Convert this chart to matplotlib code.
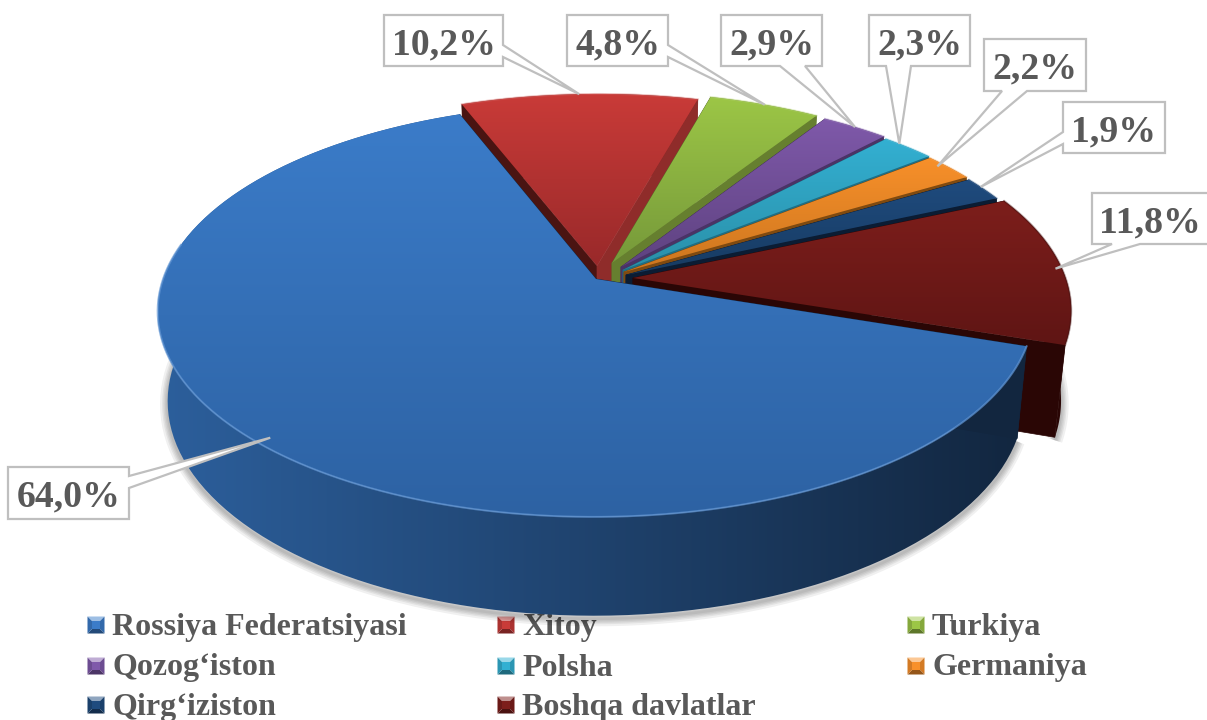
import numpy as np
import matplotlib
matplotlib.use("Agg")
import matplotlib.pyplot as plt
from matplotlib.colors import to_rgb
from matplotlib.patches import Polygon

names = ["Rossiya Federatsiyasi", "Xitoy", "Turkiya", "Qozog‘iston", "Polsha",
         "Germaniya", "Qirg‘iziston", "Boshqa davlatlar"]
shares = [64.0, 10.2, 4.8, 2.9, 2.3, 2.2, 1.9, 11.8]

top_light = ["#3b7cc9", "#c93b38", "#9cc646", "#7f59aa", "#33b0d2", "#f8902a", "#1f4b7e", "#7d1e1b"]
top_dark = ["#2d62a3", "#99292a", "#76993a", "#5e4280", "#2a8fa8", "#cc761f", "#173b62", "#5f1514"]
wall_start = ["#12263f", "#4a1412", "#566c28", "#3f2b58", "#1c6478", "#75440e", "#0a1a30", "#2a0605"]
wall_end = ["#12263f", "#8f2c2a", "#667f2f", "#4a3366", "#1f6f85", "#7f4a10", "#0b1c33", "#2a0605"]
rim_left = ["#2c5f9c", "#6e1f1d", "#566c28", "#3f2b58", "#1c6478", "#75440e", "#0a1a30", "#2a0605"]
rim_right = ["#12263f", "#4a1412", "#566c28", "#3f2b58", "#1c6478", "#75440e", "#0a1a30", "#2a0605"]

# where each exploded slice has its point on screen
apex_px = [(596, 279), (597, 266), (612, 263), (621, 267), (623, 270), (624, 272), (626, 275), (633, 278)]

# label boxes: x0, y0, x1, y1, then the two points where the callout leaves the box
boxes = [
    (8, 467, 129, 519, (129, 476), (129, 488)),
    (384, 15, 503, 66, (503, 45), (503, 57)),
    (567, 15, 668, 66, (668, 45), (668, 57)),
    (721, 15, 822, 66, (805, 66), (780, 66)),
    (869, 15, 970, 66, (911, 66), (886, 66)),
    (984, 39, 1086, 91, (1027, 91), (1002, 91)),
    (1063, 102, 1165, 153, (1063, 144), (1063, 132)),
    (1092, 193, 1212, 244, (1140, 244), (1112, 244)),
]
tip_radius = [0.97, 1.0, 1.0, 1.0, 1.0, 0.98, 1.0, 0.985]
tip_frac = [0.5, 0.5, 0.5, 0.5, 0.3, 0.35, 0.4, 0.5]

legend_x = [88, 498, 908]
legend_y = [624, 665, 704]

# perspective pie
cx, cy = 610, 273
scale_x, scale_y = 431, 200
depth = 91
persp_v, persp_z = 0.151, 0.022
start_angle = -18.5
serif = "Liberation Serif"


def project(u, v, z):
    w = 1 + persp_v * v + persp_z * z
    return cx + scale_x * u / w, cy + (-scale_y * v + depth * z) / w


def unproject(x, y):
    uw = (x - cx) / scale_x
    vw = -(y - cy) / scale_y
    v = vw / (1 - persp_v * vw)
    return uw * (1 + persp_v * v), v


def arc(c, a0, a1, z, r=1.0, n=120):
    t = np.radians(np.linspace(a0, a1, n))
    x, y = project(c[0] + r * np.cos(t), c[1] + r * np.sin(t), z)
    return np.column_stack([x, y])


def gradient_fill(ax, pts, c0, c1, vertical, zorder):
    c0, c1 = np.array(to_rgb(c0)), np.array(to_rgb(c1))
    f = np.linspace(0, 1, 256)[:, None]
    img = c0 * (1 - f) + c1 * f
    img = img[:, None, :] if vertical else img[None, :, :]
    x0, y0 = pts.min(axis=0)
    x1, y1 = pts.max(axis=0)
    im = ax.imshow(img, extent=(x0, x1, y1, y0), aspect="auto", zorder=zorder,
                   interpolation="bilinear")
    clip = Polygon(pts, closed=True, transform=ax.transData, fc="none", ec="none")
    ax.add_patch(clip)
    im.set_clip_path(clip)


def bevel_marker(ax, x, y, color, s=8.5, b=4.5):
    base = np.array(to_rgb(color))
    lighter = base + (1 - base) * 0.5
    darker = base * 0.6
    side = base * 0.85
    o = [(x - s, y - s), (x + s, y - s), (x + s, y + s), (x - s, y + s)]
    i = [(x - s + b, y - s + b), (x + s - b, y - s + b), (x + s - b, y + s - b), (x - s + b, y + s - b)]
    for k, col in enumerate([lighter, side, darker, side]):
        ax.add_patch(Polygon([o[k], o[(k + 1) % 4], i[(k + 1) % 4], i[k]], fc=col, ec="none", zorder=2))
    ax.add_patch(Polygon(i, fc=base, ec="none", zorder=2))


fig = plt.figure(figsize=(12.07, 7.2), dpi=100)
ax = fig.add_axes([0, 0, 1, 1])

# legend goes under the pie, the pie cuts into the "Xitoy" text
for i, name in enumerate(names):
    lx = legend_x[i % 3]
    ly = legend_y[i // 3]
    bevel_marker(ax, lx + 8, ly + 1, top_light[i])
    ax.text(lx + 24, ly + 3, name, family=serif, weight="bold", fontsize=23,
            color="#595959", va="center", ha="left", zorder=3)

total = sum(shares)
angle = start_angle
spans = []
for v in shares:
    spans.append((angle, angle - 360 * v / total))
    angle = spans[-1][1]
centers = [unproject(*p) for p in apex_px]

# shadow of blue and dark red sides
for i in [0, 7]:
    a0, a1 = spans[i]
    low = arc(centers[i], a0, a1, 1) + [0, 3]
    for lw in [11, 8, 6, 4, 2]:
        ax.plot(low[:, 0], low[:, 1], color="black", lw=lw, alpha=0.06, zorder=4,
                solid_capstyle="butt")

# back to front, blue last
order = [1, 2, 3, 4, 5, 6, 7, 0]
z = 5
for i in order:
    a0, a1 = spans[i]
    c = centers[i]
    apex_top = np.array(project(c[0], c[1], 0))
    apex_low = np.array(project(c[0], c[1], 1))

    # rim first, the radial walls have to cover its hidden back part
    rim = np.vstack([arc(c, a0, a1, 0), arc(c, a1, a0, 1)])
    gradient_fill(ax, rim, rim_left[i], rim_right[i], False, z)
    z += 1

    for a, col in [(a0, wall_start[i]), (a1, wall_end[i])]:
        e_top = arc(c, a, a, 0, n=1)[0]
        e_low = arc(c, a, a, 1, n=1)[0]
        ax.add_patch(Polygon([apex_top, e_top, e_low, apex_low], fc=col, ec=col, lw=0.5, zorder=z))
        z += 1

    top = np.vstack([[apex_top], arc(c, a0, a1, 0)])
    gradient_fill(ax, top, top_light[i], top_dark[i], True, z)
    z += 1

    # soft bevel along the outer edge, on blue only the front shows it
    edge = arc(c, a0, max(a1, -190) if i == 0 else a1, 0)
    edge_col = np.array(to_rgb(top_light[i])) * 0.8 + 0.2
    if i == 7:
        edge_col = np.array(to_rgb(top_dark[i])) * 0.7
    ax.plot(edge[:, 0], edge[:, 1], color=edge_col, lw=1.4, alpha=0.7 if i == 0 else 0.4, zorder=z)
    z += 1

# callouts and percent labels
z += 10
for i, v in enumerate(shares):
    a0, a1 = spans[i]
    mid = a0 + (a1 - a0) * tip_frac[i]
    tip = arc(centers[i], mid, mid, 0, r=tip_radius[i], n=1)[0]
    x0, y0, x1, y1, p, q = boxes[i]
    corners = [(x0, y0), (x1, y0), (x1, y1), (x0, y1)]
    # walk round the box clockwise and put the callout into the right side
    if p[0] == x1 and q[0] == x1:
        pts = corners[:2] + [p, tuple(tip), q] + corners[2:]
    elif p[1] == y1 and q[1] == y1:
        pts = corners[:3] + [p, tuple(tip), q] + corners[3:]
    else:
        pts = corners + [p, tuple(tip), q]
    ax.add_patch(Polygon(pts, closed=True, fc="white", ec="#bfbfbf", lw=1.6,
                         joinstyle="miter", zorder=z))
    ax.text(min((x0 + x1) / 2, 1150), (y0 + y1) / 2 + 4, f"{v:.1f}%".replace(".", ","),
            family=serif, weight="bold", fontsize=27.2, color="#595959",
            ha="center", va="center", zorder=z + 1)

ax.set_xlim(0, 1207)
ax.set_ylim(720, 0)
ax.axis("off")
fig.savefig("out.png", dpi=100)
